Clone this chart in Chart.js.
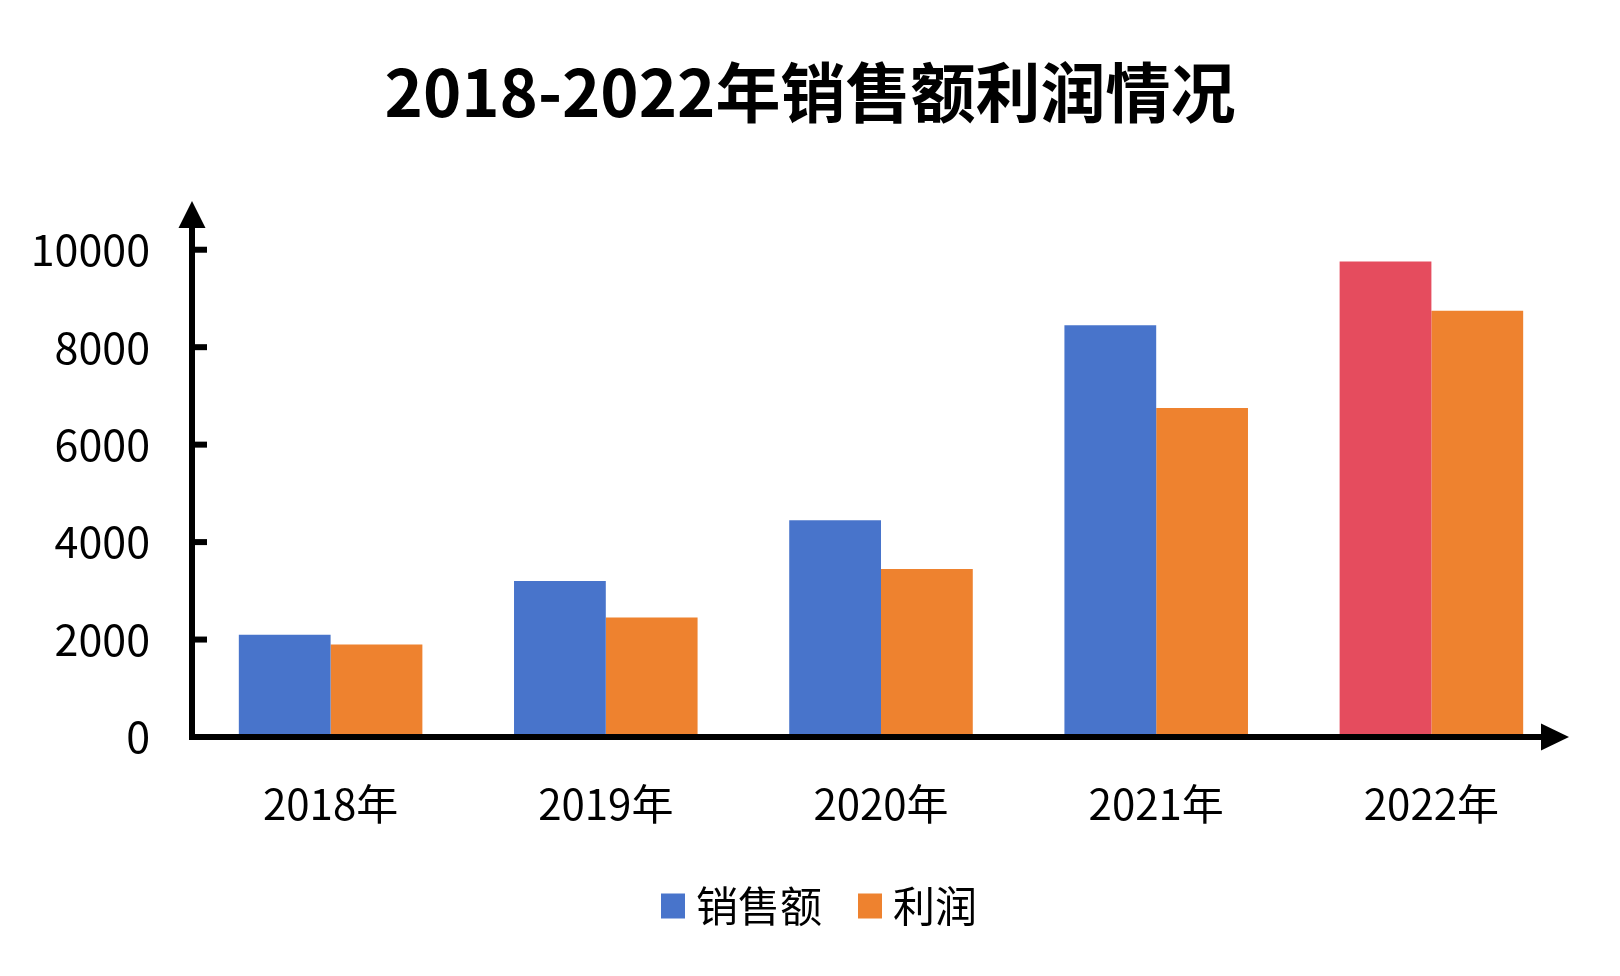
<!DOCTYPE html>
<html>
<head>
<meta charset="utf-8">
<script src="https://cdn.jsdelivr.net/npm/chart.js@4.4.1/dist/chart.umd.min.js"></script>
<style>
  html, body { margin: 0; padding: 0; background: #ffffff; }
  #wrap { width: 1620px; height: 976px; }
</style>
</head>
<body>
<div id="wrap"><canvas id="c" width="1620" height="976"></canvas></div>
<script>
const categories = ['2018年', '2019年', '2020年', '2021年', '2022年'];
const salesValues = [2100, 3200, 4450, 8450, 9760];
const profitValues = [1900, 2450, 3450, 6750, 8750];
const yTickValues = [0, 2000, 4000, 6000, 8000, 10000];
const highlightCategory = '2022年';

const BLUE = '#4874CB';
const ORANGE = '#EE822F';
const RED = '#E54C5E';
const FONT = '"Noto Sans CJK SC", "Noto Sans", sans-serif';
const legendColors = [BLUE, ORANGE];

const axisArrows = {
  id: 'axisArrows',
  afterDatasetsDraw(chart) {
    const ctx = chart.ctx;
    const y = chart.scales.y;
    const left = chart.chartArea.left - 1;
    const zeroY = y.getPixelForValue(0);
    const topY = chart.chartArea.top;
    const rightX = chart.chartArea.right;
    const lw = 6;
    ctx.save();
    ctx.fillStyle = '#000';
    ctx.strokeStyle = '#000';
    ctx.lineWidth = lw;
    ctx.beginPath();
    ctx.moveTo(left, zeroY + lw / 2);
    ctx.lineTo(left, topY + 25);
    ctx.stroke();
    ctx.beginPath();
    ctx.moveTo(left - lw / 2, zeroY);
    ctx.lineTo(rightX - 26, zeroY);
    ctx.stroke();
    ctx.beginPath();
    ctx.moveTo(left, topY);
    ctx.lineTo(left - 13.5, topY + 27);
    ctx.lineTo(left + 13.5, topY + 27);
    ctx.closePath();
    ctx.fill();
    ctx.beginPath();
    ctx.moveTo(rightX, zeroY);
    ctx.lineTo(rightX - 28, zeroY - 13.5);
    ctx.lineTo(rightX - 28, zeroY + 13.5);
    ctx.closePath();
    ctx.fill();
    y.ticks.forEach(t => {
      if (t.value === 0) return;
      const py = y.getPixelForValue(t.value);
      ctx.beginPath();
      ctx.moveTo(left, py);
      ctx.lineTo(left + 15, py);
      ctx.stroke();
    });
    ctx.restore();
  }
};

// Shift the legend slightly right and draw its colour squares with a tighter gap to the text
const LEGEND_SHIFT = 9;
const legendSquares = {
  id: 'legendSquares',
  afterLayout(chart) {
    const lg = chart.legend;
    if (!lg) return;
    lg.left += LEGEND_SHIFT;
    lg.right += LEGEND_SHIFT;
    (lg.legendHitBoxes || []).forEach(hb => { hb.left += LEGEND_SHIFT; });
  },
  afterDraw(chart) {
    const lg = chart.legend;
    if (!lg || !lg.legendHitBoxes) return;
    const ctx = chart.ctx;
    ctx.save();
    lg.legendHitBoxes.forEach((hb, i) => {
      const item = lg.legendItems[i];
      ctx.fillStyle = item.realColor;
      const cy = hb.top + hb.height / 2;
      ctx.fillRect(hb.left, cy - 12.5, 24, 25);
    });
    ctx.restore();
  }
};

new Chart(document.getElementById('c'), {
  type: 'bar',
  data: {
    labels: categories,
    datasets: [
      {
        label: '销售额',
        data: salesValues,
        backgroundColor: (c) => (c.dataIndex !== undefined && categories[c.dataIndex] === highlightCategory) ? RED : BLUE,
        borderWidth: 0,
        categoryPercentage: 0.667,
        barPercentage: 1.0
      },
      {
        label: '利润',
        data: profitValues,
        backgroundColor: ORANGE,
        borderWidth: 0,
        categoryPercentage: 0.667,
        barPercentage: 1.0
      }
    ]
  },
  options: {
    responsive: false,
    animation: false,
    devicePixelRatio: 1,
    layout: { padding: { left: 0, right: 0, top: 0, bottom: 39 } },
    plugins: {
      title: {
        display: true,
        text: '2018-2022年销售额利润情况',
        color: '#000',
        font: { family: FONT, size: 65, weight: 'bold', lineHeight: 1.2 },
        padding: { top: 53, bottom: 70 }
      },
      legend: {
        display: true,
        position: 'bottom',
        labels: {
          color: '#000',
          font: { family: FONT, size: 42 },
          boxWidth: 14,
          boxHeight: 25,
          padding: 36,
          generateLabels(chart) {
            return chart.data.datasets.map((ds, i) => ({
              text: ds.label,
              fillStyle: 'rgba(0,0,0,0)',
              strokeStyle: 'rgba(0,0,0,0)',
              lineWidth: 0,
              hidden: false,
              datasetIndex: i,
              fontColor: '#000',
              realColor: legendColors[i]
            }));
          }
        }
      },
      tooltip: { enabled: false }
    },
    scales: {
      x: {
        grid: { display: false, drawTicks: false },
        border: { display: false },
        ticks: { color: '#000', font: { family: FONT, size: 42 }, padding: 42, maxRotation: 0 },
        afterFit(s) { s.height = 112; }
      },
      y: {
        min: 0,
        max: 11000,
        grid: { display: false, drawTicks: false },
        border: { display: false },
        afterBuildTicks(s) { s.ticks = yTickValues.map(v => ({ value: v })); },
        ticks: {
          color: '#000',
          font: { family: FONT, size: 43 },
          padding: 43,
          callback: (v) => String(v)
        },
        afterFit(s) { s.width = 193; }
      },
      yRight: {
        type: 'linear',
        position: 'right',
        display: true,
        min: 0,
        max: 11000,
        grid: { display: false, drawTicks: false },
        border: { display: false },
        ticks: { display: false },
        afterFit(s) { s.width = 51; }
      }
    }
  },
  plugins: [axisArrows, legendSquares]
});
</script>
</body>
</html>
